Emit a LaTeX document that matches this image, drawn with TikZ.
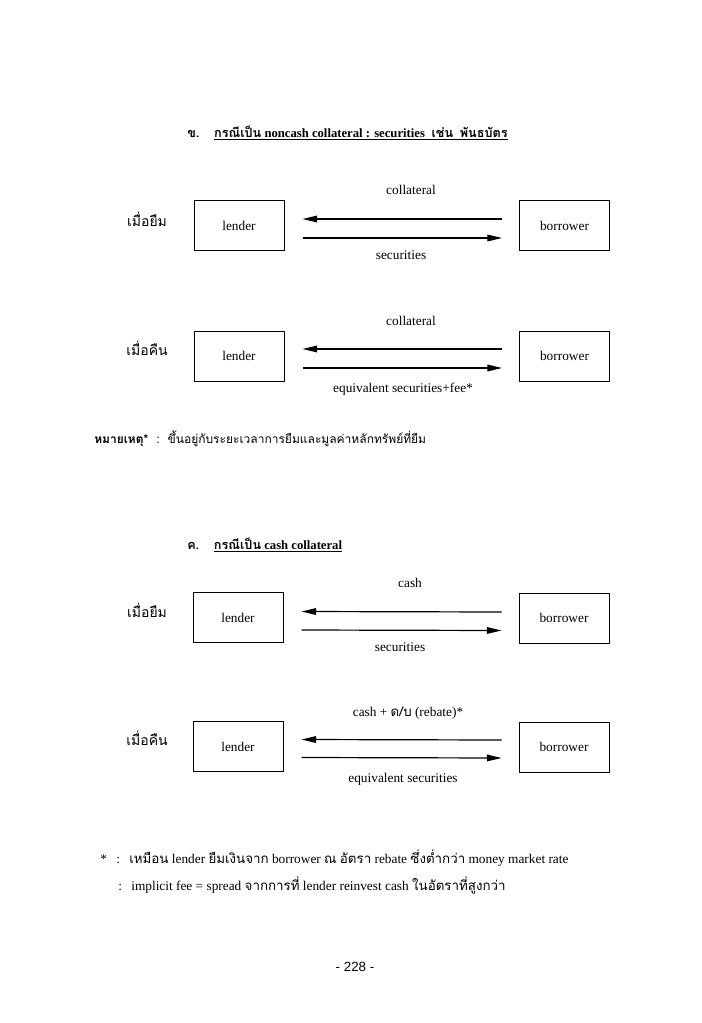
\documentclass[tikz,border=0pt]{standalone}
\usepackage{fontspec}
\setmainfont{Liberation Serif}
\newfontfamily\thai[Script=Thai]{Loma}
\newfontfamily\pgsans{Liberation Sans}
\newcommand{\tha}[1]{{\thai #1}}
\usetikzlibrary{arrows.meta}
\begin{document}
\begin{tikzpicture}[x=0.75pt,y=-0.75pt,
  box/.style={draw,line width=0.75pt,minimum width=67.5pt,minimum height=37.5pt,inner sep=0pt,font=\fontsize{10}{12}\selectfont},
  flow/.style={line width=0.9pt,-{Triangle[length=11pt,width=5pt]}},
  lbl/.style={inner sep=0pt,font=\fontsize{10}{12}\selectfont},
  thlbl/.style={inner sep=0pt,font=\thai\fontsize{10.5}{12}\selectfont},
  ttl/.style={inner sep=0pt,anchor=west,font=\fontsize{9.5}{12}\selectfont\bfseries},
  foot/.style={inner sep=0pt,anchor=west,font=\fontsize{10}{12}\selectfont},
]
\useasboundingbox (0,0) rectangle (702,1023);

% ---- section 1 title
\node[ttl] (t1) at (187,133) {\tha{ข.}\hspace{11pt}\underline{\tha{กรณีเป็น} noncash collateral : securities\hspace{5pt}\tha{เช่น}\hspace{5pt}\tha{พันธบัตร}}};

% ---- borrowing, noncash
\node[thlbl] (k1) at (147,219) {เมื่อยืม};
\node[box] (l1) at (239,226) {lender};
\node[box] (b1) at (564.5,226) {borrower};
\draw[flow] ([shift={(-17,-7)}]b1.west) -- ([shift={(18,-7)}]l1.east);
\draw[flow] ([shift={(18,12)}]l1.east) -- ([shift={(-17,12)}]b1.west);
\node[lbl] (c1) at (411,190) {collateral};
\node[lbl] (s1) at (401,255) {securities};

% ---- returning, noncash
\node[thlbl] (k2) at (147,348) {เมื่อคืน};
\node[box] (l2) at (239,356) {lender};
\node[box] (b2) at (564.5,356) {borrower};
\draw[flow] ([shift={(-17,-7)}]b2.west) -- ([shift={(18,-7)}]l2.east);
\draw[flow] ([shift={(18,12)}]l2.east) -- ([shift={(-17,12)}]b2.west);
\node[lbl] (c2) at (411,321) {collateral};
\node[lbl] (s2) at (403,389) {equivalent securities+fee*};

% ---- note
\node[foot,font=\thai\fontsize{9}{12}\selectfont] (note) at (94,439) {{\bfseries หมายเหตุ*}\hspace{6pt}:\hspace{6pt}ขึ้นอยู่กับระยะเวลาการยืมและมูลค่าหลักทรัพย์ที่ยืม};

% ---- section 2 title
\node[ttl] (t2) at (187,545) {\tha{ค.}\hspace{11pt}\underline{\tha{กรณีเป็น} cash collateral}};

% ---- borrowing, cash
\node[thlbl] (k3) at (147,610) {เมื่อยืม};
\node[box] (l3) at (238,617.5) {lender};
\node[box] (b3) at (564,618) {borrower};
\draw[flow] ([shift={(-17,-6)}]b3.west) -- ([shift={(18,-6)}]l3.east);
\draw[flow] ([shift={(18,12.5)}]l3.east) -- ([shift={(-17,12.5)}]b3.west);
\node[lbl] (c3) at (410,583) {cash};
\node[lbl] (s3) at (400,647) {securities};

% ---- returning, cash
\node[thlbl] (k4) at (147,738) {เมื่อคืน};
\node[box] (l4) at (238,746.5) {lender};
\node[box] (b4) at (564,747) {borrower};
\draw[flow] ([shift={(-17,-7)}]b4.west) -- ([shift={(18,-7)}]l4.east);
\draw[flow] ([shift={(18,11)}]l4.east) -- ([shift={(-17,11)}]b4.west);
\node[lbl] (c4) at (408,713) {cash + \tha{ด/บ} (rebate)*};
\node[lbl] (s4) at (403,779) {equivalent securities};

% ---- footnotes
\node[foot] (f1) at (100,858) {*\hspace{7pt}:\hspace{7pt}\tha{เหมือน} lender \tha{ยืมเงินจาก} borrower \tha{ณ} \tha{อัตรา} rebate \tha{ซึ่งต่ำกว่า} money market rate};
\node[foot] (f2) at (118,885) {:\hspace{7pt}implicit fee = spread \tha{จากการที่} lender reinvest cash \tha{ในอัตราที่สูงกว่า}};

% ---- page number
\node[inner sep=0pt,font=\pgsans\fontsize{10}{12}\selectfont] (pg) at (355,967) {- 228 -};
\end{tikzpicture}
\end{document}
